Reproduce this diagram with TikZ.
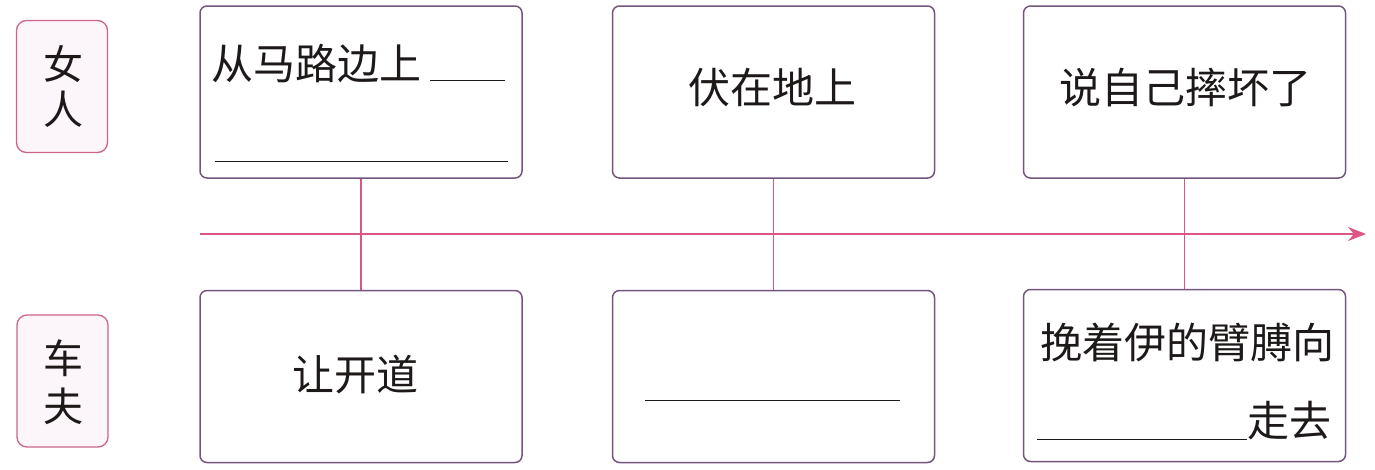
\documentclass[tikz,border=0pt]{standalone}
\usepackage{fontspec}
\newfontfamily\cjk{Noto Sans CJK SC}
\usetikzlibrary{arrows.meta}
\definecolor{boxline}{RGB}{115,85,125}
\definecolor{pinkline}{RGB}{220,85,135}
\definecolor{labelline}{RGB}{205,100,140}
\definecolor{labelfill}{RGB}{252,245,250}
\definecolor{ink}{RGB}{30,25,25}
\tikzset{
  evbox/.style={draw=boxline, line width=1.5pt, rounded corners=7pt, minimum width=322pt, minimum height=172pt, inner sep=0pt},
  whobox/.style={draw=labelline, fill=labelfill, line width=1.3pt, rounded corners=10pt, minimum width=91pt, minimum height=132pt, inner sep=0pt},
  txt/.style={inner sep=0pt, text=ink, font=\cjk\fontsize{42}{46}\selectfont},
  lbl/.style={inner sep=0pt, text=ink, font=\cjk\fontsize{40}{44}\selectfont},
  blank/.style={draw=ink, line width=1pt},
  conn/.style={draw=pinkline, line width=1.5pt},
}
\begin{document}
\begin{tikzpicture}[x=1pt,y=1pt]
\useasboundingbox (0,0) rectangle (1375,-469);
% label boxes
\node[whobox] (w) at (62,-86.5) {};
\node[whobox] (c) at (62.5,-381) {};
\node[lbl] (w1) at (63,-64) {女};
\node[lbl] (w2) at (63,-109) {人};
\node[lbl] (c1) at (63,-358) {车};
\node[lbl] (c2) at (63,-406) {夫};
% event boxes
\node[evbox] (t1) at (361,-92) {};
\node[evbox] (t2) at (773.5,-92) {};
\node[evbox] (t3) at (1184.5,-92) {};
\node[evbox] (b1) at (361,-376.5) {};
\node[evbox] (b2) at (773.5,-376.5) {};
\node[evbox] (b3) at (1184.5,-375.5) {};
% timeline
\coordinate (ts) at (200,-234);
\coordinate (te) at (1366,-234);
\draw[conn, -{Stealth[length=18pt, width=14pt]}] (ts) -- (te);
\draw[conn] (t1.south) -- (b1.north);
\draw[conn] (t2.south) -- (b2.north);
\draw[conn] (t3.south) -- (b3.north);
% texts
\node[txt, anchor=west] (x1) at (211,-64) {从马路边上};
\coordinate (u1a) at (430,-80); \coordinate (u1b) at (505,-80);
\draw[blank] (u1a) -- (u1b);
\coordinate (u2a) at (215,-161); \coordinate (u2b) at (508,-161);
\draw[blank] (u2a) -- (u2b);
\node[txt] (x2) at (772,-88) {伏在地上};
\node[txt] (x3) at (1185,-88) {说自己摔坏了};
\node[txt] (y1) at (355,-375) {让开道};
\coordinate (u3a) at (645,-400); \coordinate (u3b) at (900,-400);
\draw[blank] (u3a) -- (u3b);
\node[txt] (y3) at (1187,-342) {挽着伊的臂膊向};
\coordinate (u4a) at (1037,-439); \coordinate (u4b) at (1247,-439);
\draw[blank] (u4a) -- (u4b);
\node[txt] (y4) at (1289,-421) {走去};
\end{tikzpicture}
\end{document}
